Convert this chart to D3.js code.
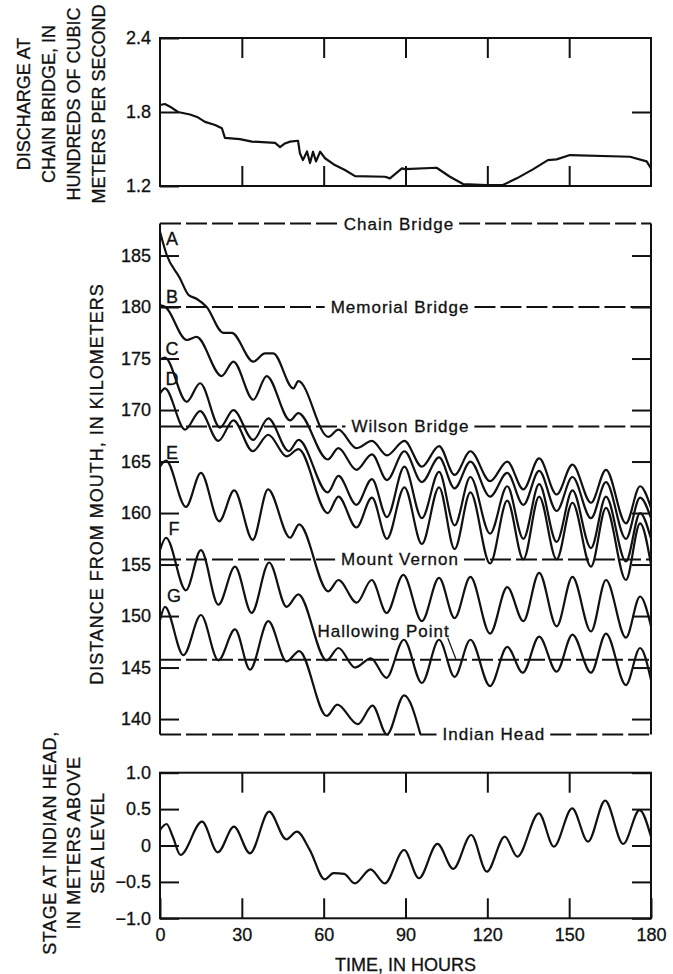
<!DOCTYPE html>
<html>
<head>
<meta charset="utf-8">
<script src="https://cdn.jsdelivr.net/npm/d3@7"></script>
<style>
  body { margin: 0; background: #fff; }
  text { font-family: "Liberation Sans", Arial, sans-serif; fill: #111; stroke: #111; stroke-width: 0.3px; }
</style>
</head>
<body>
<svg id="chart" width="673" height="974"></svg>
<script>
"use strict";

// values
const hourTicks = [0, 30, 60, 90, 120, 150, 180];
const dischargeTicks = [1.2, 1.8, 2.4];
const kmTicks = [140, 145, 150, 155, 160, 165, 170, 175, 180, 185];
const stageTicks = [-1.0, -0.5, 0, 0.5, 1.0];

// discharge at Chain Bridge, hundreds of m3/s
const dischargeHours = [0, 1.8, 3.7, 6.6, 11, 13.6, 16.5, 20.2, 22.7, 23.8, 29.3, 33.7, 42.2, 44, 45.8, 47.7, 50.6, 51.3, 52.4, 53.9, 55, 56.1, 57.2, 58.7, 60.5, 64.1, 67.8, 71.5, 82.5, 84.3, 88.7, 89.8, 101.4, 106.3, 111.1, 119.8, 125.7, 130.8, 136.7, 142.2, 145.4, 150.3, 172.3, 178.4, 180];
const dischargeValues = [1.857, 1.865, 1.843, 1.80, 1.78, 1.76, 1.72, 1.695, 1.668, 1.59, 1.58, 1.56, 1.55, 1.515, 1.545, 1.56, 1.567, 1.465, 1.41, 1.48, 1.386, 1.478, 1.40, 1.478, 1.425, 1.37, 1.33, 1.28, 1.275, 1.262, 1.343, 1.337, 1.348, 1.275, 1.216, 1.208, 1.208, 1.262, 1.335, 1.41, 1.416, 1.451, 1.437, 1.40, 1.343];

// stage at Indian Head, m above sea level
const stageHours = [0, 2.4, 4.7, 7.5, 15.4, 21.2, 27.1, 33, 40, 46.3, 50.2, 54.9, 60.4, 63.6, 67.5, 71.4, 77.2, 82.4, 89.5, 94.9, 101.7, 107.5, 114.1, 119.8, 126.4, 131, 138.9, 144.4, 151.1, 156.9, 163.2, 169.8, 175.8, 180];
const stageValues = [0.213, 0.295, 0.12, -0.13, 0.327, -0.094, 0.259, -0.108, 0.465, 0.085, 0.19, -0.06, -0.465, -0.38, -0.39, -0.52, -0.327, -0.52, -0.062, -0.45, 0.021, -0.32, 0.144, -0.36, 0.121, -0.153, 0.442, -0.016, 0.51, 0.053, 0.616, 0.021, 0.487, 0.12];

// particle paths, [hour, km from mouth]
const pathA = [[0, 187.3], [2.4, 185.1], [7.3, 182.8], [10.4, 181.2], [13.4, 180.8], [17.1, 180.0], [23.2, 177.5], [26.3, 177.5], [34.2, 174.7], [38.5, 175.5], [41.5, 175.5], [48.9, 172.1], [50.7, 172.8], [61.7, 167.4], [65.4, 168.1], [72, 166.3], [77.7, 167.0], [83.2, 165.6], [89.6, 167.0], [96, 164.5], [102.3, 166.5], [108, 163.7], [113.8, 166.0], [121, 163.1], [127.3, 165.0], [133.2, 162.3], [139, 165.3], [145.4, 161.8], [151.2, 164.7], [158, 161.0], [163.5, 164.2], [170.8, 159.0], [176, 162.6], [180, 160.5]];
const pathB = [[0, 180.2], [2, 180.0], [9.8, 176.8], [13.4, 177.1], [22.6, 173.3], [26.9, 174.7], [34.2, 171.0], [39.1, 173.3], [47.7, 169.0], [50.7, 169.7], [61.5, 165.2], [65.4, 166.3], [72, 164.2], [77.7, 165.7], [83.2, 163.2], [89.6, 166.0], [96, 163.0], [102.3, 165.4], [108, 162.4], [113.8, 165.0], [121, 161.6], [127.3, 163.9], [133.2, 160.8], [139, 164.1], [145.4, 160.2], [151.2, 163.5], [158, 159.5], [163.5, 163.0], [170.8, 157.5], [176, 161.5], [180, 159.5]];
const pathC = [[0, 174.9], [1.8, 175.1], [9.8, 170.8], [14.7, 172.6], [22, 168.3], [26.9, 170.0], [34.2, 167.1], [39.7, 169.2], [47.2, 166.0], [50.8, 167.1], [61.5, 162.0], [65.4, 163.6], [72, 160.8], [77.7, 163.3], [83.2, 159.6], [89.6, 164.5], [96, 159.5], [102.3, 164.0], [108, 158.8], [113.8, 163.5], [121, 158.0], [127.3, 162.6], [133.2, 157.5], [139, 162.8], [145.4, 157.2], [151.2, 162.2], [158, 156.6], [163.5, 161.6], [170.8, 155.3], [176, 160.0], [180, 157.5]];
const pathD = [[0, 171.6], [1.8, 172.1], [9.2, 168.1], [14.7, 169.9], [21.4, 167.0], [26.9, 169.0], [34, 166.0], [39.7, 167.6], [46.4, 165.5], [50.8, 166.2], [61.5, 160.0], [65.4, 161.6], [72, 158.6], [77.7, 161.5], [83.2, 157.5], [89.6, 162.5], [96, 157.0], [102.3, 162.5], [108, 156.5], [113.8, 162.0], [121, 155.1], [127.3, 161.2], [133.2, 155.5], [139, 161.6], [145.4, 155.5], [151.2, 161.0], [158, 154.8], [163.5, 160.5], [170.8, 153.5], [176, 159.0], [180, 155.0]];
const pathE = [[0, 164.5], [2.2, 165.1], [9.5, 160.6], [15, 163.9], [21.7, 159.2], [27.2, 162.2], [34, 157.4], [39.6, 162.3], [47.7, 157.6], [51, 158.9], [61.7, 152.4], [65.4, 153.5], [72.1, 151.3], [77.6, 153.5], [83.1, 150.3], [89.2, 154.0], [96, 149.5], [102.3, 153.7], [108, 149.8], [113.8, 153.8], [121, 148.3], [127.3, 152.8], [133.2, 149.5], [139, 154.2], [145.4, 149.0], [151.2, 153.8], [158, 148.5], [163.5, 153.5], [170.8, 147.9], [176, 151.9], [180, 149.0]];
const pathF = [[0, 156.4], [2.2, 157.6], [9.5, 152.5], [15, 156.4], [21.4, 151.1], [27.5, 154.8], [33.6, 150.3], [40, 155.2], [46.4, 150.9], [50.7, 152.1], [61.1, 145.7], [65.4, 146.9], [71.5, 145.0], [77.3, 145.9], [83, 144.0], [89.4, 147.7], [96, 143.5], [102.3, 147.7], [108, 144.1], [113.8, 147.7], [121, 143.2], [127.3, 147.0], [133, 144.5], [139, 148.0], [145.4, 144.6], [151.2, 148.2], [158, 144.5], [163.5, 148.3], [170.8, 143.3], [176, 146.9], [180, 143.8]];
const pathG = [[0, 149.6], [1.8, 150.9], [8.6, 146.2], [15, 150.1], [21.4, 145.7], [27.5, 148.7], [33, 144.8], [39.7, 149.5], [46.4, 145.6], [51, 146.6], [61.1, 140.3], [65, 141.4], [72.5, 139.5], [77.9, 141.3], [83.2, 138.5], [89.5, 142.3], [95.5, 138.5]];

const pathNames = ["A", "B", "C", "D", "E", "F", "G"];
const paths = [pathA, pathB, pathC, pathD, pathE, pathF, pathG];

const landmarkNames = ["Chain Bridge", "Memorial Bridge", "Wilson Bridge", "Mount Vernon", "Hallowing Point", "Indian Head"];
const landmarkKm = [188.1, 180.0, 168.4, 155.5, 145.75, 138.5];


const svg = d3.select("#chart");
const left = 160, right = 651;
const tickLen = 19;
const fontSize = "18px";

const x = d3.scaleLinear([0, 180], [left, right]);
const yQ = d3.scaleLinear([1.2, 2.4], [186, 38]);
const yKm = d3.scaleLinear([138.5, 188.1], [734.5, 223.6]);
const yStage = d3.scaleLinear([-1, 1], [918.3, 772.7]);

function styleAxis(g) {
  g.select(".domain").remove();
  g.selectAll(".tick line").attr("stroke", "#111").attr("stroke-width", 2);
  g.selectAll(".tick text")
    .attr("fill", "#111")
    .style("font-size", fontSize)
    .style("font-family", "\"Liberation Sans\", Arial, sans-serif");
}

function frame(y0, y1) {
  svg.append("rect")
    .attr("x", left).attr("y", y0)
    .attr("width", right - left).attr("height", y1 - y0)
    .attr("fill", "none").attr("stroke", "#111").attr("stroke-width", 2);
}

// ---- top panel: discharge ----
svg.append("g").attr("transform", `translate(0,${yQ(2.4)})`)
  .call(d3.axisTop(x).tickValues(hourTicks.slice(1, -1)).tickSize(-tickLen - 1).tickFormat(""))
  .call(styleAxis);
svg.append("g").attr("transform", `translate(0,${yQ(1.2)})`)
  .call(d3.axisBottom(x).tickValues(hourTicks.slice(1, -1)).tickSize(-tickLen - 1).tickFormat(""))
  .call(styleAxis);
svg.append("g").attr("transform", `translate(${left},0)`)
  .call(d3.axisLeft(yQ).tickValues(dischargeTicks).tickSize(-tickLen).tickPadding(9).tickFormat(d3.format(".1f")))
  .call(styleAxis);
svg.append("g").attr("transform", `translate(${right},0)`)
  .call(d3.axisRight(yQ).tickValues([1.8]).tickSize(-tickLen).tickFormat(""))
  .call(styleAxis);
frame(yQ(2.4), yQ(1.2));

svg.append("path")
  .datum(d3.zip(dischargeHours, dischargeValues))
  .attr("fill", "none").attr("stroke", "#111").attr("stroke-width", 2.2)
  .attr("stroke-linejoin", "round")
  .attr("d", d3.line().x(d => x(d[0])).y(d => yQ(d[1])));

// ---- middle panel: distance from mouth ----
svg.append("g").attr("transform", `translate(${left},0)`)
  .call(d3.axisLeft(yKm).tickValues(kmTicks).tickSize(-tickLen).tickPadding(9))
  .call(styleAxis);
svg.append("g").attr("transform", `translate(${right},0)`)
  .call(d3.axisRight(yKm).tickValues(kmTicks).tickSize(-tickLen).tickFormat(""))
  .call(styleAxis);

[left, right].forEach(px => {
  svg.append("line")
    .attr("x1", px).attr("x2", px)
    .attr("y1", yKm(landmarkKm[0])).attr("y2", yKm(landmarkKm[5]))
    .attr("stroke", "#111").attr("stroke-width", 2);
});

// label spot for each landmark, in hours along the line (null = label sits above line)
const landmarkLabelHour = [87.6, 88, 91.8, 88, null, 122.4];

landmarkNames.forEach((name, i) => {
  const yy = yKm(landmarkKm[i]);
  const dash = (x1, x2) => svg.append("line")
    .attr("x1", x1).attr("x2", x2).attr("y1", yy).attr("y2", yy)
    .attr("stroke", "#111").attr("stroke-width", 2)
    .attr("stroke-dasharray", "21,5");
  const label = svg.append("text")
    .style("font-size", "17px").style("letter-spacing", "1px")
    .attr("text-anchor", "middle").attr("dy", "0.35em")
    .text(name);
  if (landmarkLabelHour[i] === null) {
    label.attr("x", x(82)).attr("y", yKm(148.55));
    dash(left, right);
    const bb = label.node().getBBox();
    svg.append("line")
      .attr("x1", bb.x + bb.width - 2).attr("y1", bb.y + bb.height - 3)
      .attr("x2", bb.x + bb.width + 6).attr("y2", yy - 1)
      .attr("stroke", "#111").attr("stroke-width", 1.2);
  } else {
    label.attr("x", x(landmarkLabelHour[i])).attr("y", yy);
    const bb = label.node().getBBox();
    dash(left, bb.x - 6);
    dash(bb.x + bb.width + 5, right);
  }
});

const kmLine = d3.line().curve(d3.curveMonotoneX).x(d => x(d[0])).y(d => yKm(d[1]));
svg.append("g").selectAll("path")
  .data(paths)
  .join("path")
  .attr("fill", "none").attr("stroke", "#111").attr("stroke-width", 2.2)
  .attr("d", kmLine);

// start letters, placed at these km levels beside the left axis
const letterKm = [186.6, 181.0, 176.0, 173.0, 165.9, 158.5, 152.0];
svg.append("g").selectAll("text")
  .data(pathNames)
  .join("text")
  .attr("x", (d, i) => x(0) + (i > 4 ? 14 : 12))
  .attr("y", (d, i) => yKm(letterKm[i]))
  .attr("text-anchor", "middle")
  .attr("dy", "0.35em")
  .style("font-size", fontSize)
  .text(d => d);

// ---- bottom panel: stage ----
svg.append("g").attr("transform", `translate(0,${yStage(1)})`)
  .call(d3.axisTop(x).tickValues(hourTicks.slice(1, -1)).tickSize(-tickLen - 1).tickFormat(""))
  .call(styleAxis);
svg.append("g").attr("transform", `translate(0,${yStage(-1)})`)
  .call(d3.axisBottom(x).tickValues(hourTicks).tickSize(-tickLen - 1).tickPadding(10))
  .call(styleAxis);
svg.append("g").attr("transform", `translate(${left},0)`)
  .call(d3.axisLeft(yStage).tickValues(stageTicks).tickSize(-tickLen).tickPadding(9)
    .tickFormat(d => d === 0 ? "0" : d3.format(".1f")(d)))
  .call(styleAxis);
svg.append("g").attr("transform", `translate(${right},0)`)
  .call(d3.axisRight(yStage).tickValues(stageTicks).tickSize(-tickLen).tickFormat(""))
  .call(styleAxis);
frame(yStage(1), yStage(-1));

svg.append("path")
  .datum(d3.zip(stageHours, stageValues))
  .attr("fill", "none").attr("stroke", "#111").attr("stroke-width", 2.2)
  .attr("d", d3.line().curve(d3.curveMonotoneX).x(d => x(d[0])).y(d => yStage(d[1])));

// ---- axis titles ----
function vTitle(lines, cx, cy, gap, spacing) {
  const t = svg.append("text")
    .attr("transform", `translate(${cx},${cy}) rotate(-90)`)
    .attr("text-anchor", "middle")
    .style("font-size", fontSize)
    .style("letter-spacing", spacing + "px");
  lines.forEach((s, i) => {
    t.append("tspan").attr("x", 0).attr("y", i * gap).attr("dy", "0.35em").text(s);
  });
}
vTitle(["DISCHARGE AT", "CHAIN BRIDGE, IN", "HUNDREDS OF CUBIC", "METERS PER SECOND"], 24, 104, 25, 0);
vTitle(["DISTANCE FROM MOUTH, IN KILOMETERS"], 97, 484, 25, 1.0);
vTitle(["STAGE AT INDIAN HEAD,", "IN METERS ABOVE", "SEA LEVEL"], 50, 843, 24, 0.6);

svg.append("text")
  .attr("x", x(90)).attr("y", 971)
  .attr("text-anchor", "middle")
  .style("font-size", fontSize)
  .text("TIME, IN HOURS");
</script>
</body>
</html>
